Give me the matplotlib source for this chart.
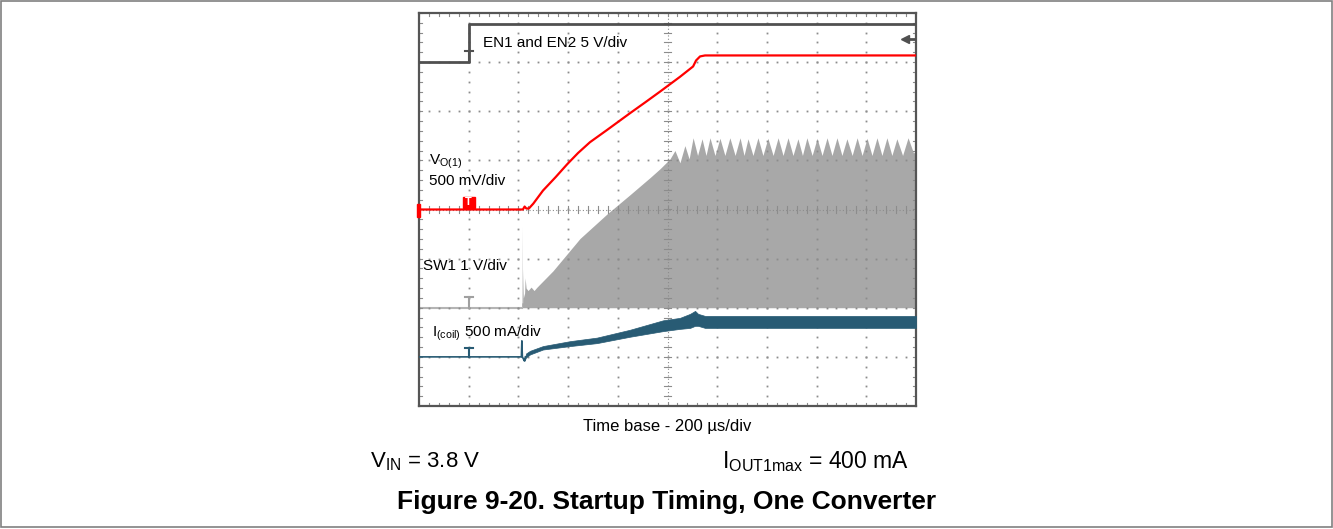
import numpy as np
import matplotlib
matplotlib.use("Agg")
import matplotlib.pyplot as plt
from matplotlib.patches import Rectangle

plt.rcParams['font.family'] = ['Liberation Sans', 'DejaVu Sans']
plt.rcParams['mathtext.fontset'] = 'custom'
plt.rcParams['mathtext.rm'] = 'Liberation Sans'
plt.rcParams['mathtext.it'] = 'Liberation Sans:italic'

#========== DATA ==========#

T_DIV = 200.0            # us per division

# EN1 / EN2 (5 V/div)
en_t = [0, 200, 200, 2000]
en_v = [0.0, 0.0, 3.85, 3.85]

# Vo(1) (500 mV/div)
vo_t = [0, 418, 425, 432, 442, 460, 499, 550, 596, 640, 688, 757, 849, 910, 970, 1050, 1103, 1115, 1131, 1151, 2000]
vo_v = [0.0, 0.0, 0.03, 0.01, 0.01, 0.06, 0.193, 0.33, 0.46, 0.575, 0.685, 0.81, 0.98, 1.09, 1.20, 1.35, 1.456, 1.517, 1.558, 1.568, 1.568]

# SW1 envelope (1 V/div)
sw_t = [0, 410, 413, 414, 415, 417, 418, 420, 425, 427, 431, 439, 451, 463, 475, 539, 648, 757, 849, 930, 970, 1010,
        1030, 1050, 1070, 1087, 1103, 1121, 1139, 1155, 1171, 1191, 1211, 1231, 1251, 1272, 1292, 1308, 1324, 1344,
        1364, 1384, 1404, 1425, 1445, 1465, 1485, 1505, 1525, 1543, 1561, 1582, 1602, 1622, 1642, 1662, 1682, 1702,
        1722, 1743, 1763, 1783, 1803, 1823, 1843, 1863, 1883, 1903, 1923, 1946, 1968, 1990, 2000]
sw_v = [0.0, 0.0, 0.0, 1.67, 0.10, 0.10, 0.79, 0.20, 0.30, 0.61, 0.40, 0.35, 0.42, 0.35, 0.42, 0.75, 1.41, 1.91, 2.30, 2.65, 2.83, 3.03,
        3.20, 2.95, 3.30, 3.03, 3.46, 3.10, 3.44, 3.10, 3.46, 3.10, 3.45, 3.10, 3.46, 3.10, 3.46, 3.10, 3.44, 3.10,
        3.46, 3.10, 3.45, 3.10, 3.46, 3.10, 3.46, 3.10, 3.44, 3.10, 3.46, 3.10, 3.45, 3.10, 3.46, 3.10, 3.46, 3.10,
        3.44, 3.10, 3.46, 3.10, 3.45, 3.10, 3.46, 3.10, 3.46, 3.10, 3.44, 3.10, 3.46, 3.15, 3.20]

# I(coil) (500 mA/div)
il_t = [0, 412, 414, 416, 420, 424, 428]
il_v = [0, 0, 163, 0, -20, -41, 0]
band_t = [424, 431, 447, 499, 608, 716, 849, 982, 1050, 1091, 1111, 1123, 1151, 2000]
band_hi = [-30, 35, 62, 110, 160, 196, 276, 372, 397, 438, 468, 438, 417, 417]
band_lo = [-41, -5, 25, 75, 110, 140, 205, 262, 285, 295, 316, 316, 295, 295]

# channel settings: (offset in div, units per div)
EN_CH = (3.0, 5.0)
VO_CH = (0.0, 0.5)
SW_CH = (-2.0, 1.0)
IL_CH = (-3.0, 500.0)

C_EN = '#505050'
C_VO = '#ff0000'
C_SW = '#a8a8a8'
C_IL = '#285b74'
C_GRID = '#8c8c8c'


def to_div(values, ch):
    return ch[0] + np.asarray(values, dtype=float) / ch[1]


def tdiv(t):
    return np.asarray(t, dtype=float) / T_DIV


def ground_marker(ax, x, y_ground, height, color):
    ax.plot([x - 0.08, x + 0.08], [y_ground + height, y_ground + height], color=color, lw=1.5, zorder=6)
    ax.plot([x, x], [y_ground, y_ground + height], color=color, lw=1.5, zorder=6)


#========== FIGURE ==========#

W, H = 1333, 529
fig = plt.figure(figsize=(W / 100, H / 100), dpi=100)
fig.patches.append(Rectangle((0.5 / W, 2.0 / H), 1 - 1.5 / W, 1 - 2.5 / H, transform=fig.transFigure,
                             fill=False, edgecolor='#808080', lw=1.2))

x0, x1, y0, y1 = 419, 916, 13, 406
ax = fig.add_axes([x0 / W, 1 - y1 / H, (x1 - x0) / W, (y1 - y0) / H])
ax.set_xlim(0, 10)
ax.set_ylim(-4, 4)
ax.set_xticks([])
ax.set_yticks([])
for sp in ax.spines.values():
    sp.set_color('#555555')
    sp.set_linewidth(1.6)

# graticule
fine = np.arange(0, 10.01, 0.2)
fine_y = np.arange(-4, 4.01, 0.2)
for gx in range(1, 10):
    if gx == 5:
        continue
    ax.plot(np.full_like(fine_y, gx), fine_y, ls='none', marker='s', ms=1.3, mew=0, color=C_GRID, zorder=2)
for gy in range(-3, 4):
    if gy == 0:
        continue
    ax.plot(fine, np.full_like(fine, gy), ls='none', marker='s', ms=1.3, mew=0, color=C_GRID, zorder=2)
ax.axvline(5, color=C_GRID, lw=0.8, ls=(0, (1, 2)), zorder=2)
ax.axhline(0, color=C_GRID, lw=0.8, ls=(0, (1, 2)), zorder=2)
for fx in fine:
    ax.plot([fx, fx], [-0.07, 0.07], color=C_GRID, lw=0.8, zorder=2)
    ax.plot([fx, fx], [-4, -3.93], color=C_GRID, lw=0.8, zorder=2)
    ax.plot([fx, fx], [4, 3.93], color=C_GRID, lw=0.8, zorder=2)
for fy in fine_y:
    ax.plot([4.93, 5.07], [fy, fy], color=C_GRID, lw=0.8, zorder=2)
    ax.plot([0, 0.07], [fy, fy], color=C_GRID, lw=0.8, zorder=2)
    ax.plot([9.93, 10], [fy, fy], color=C_GRID, lw=0.8, zorder=2)

# SW1
ax.fill_between(tdiv(sw_t), SW_CH[0], to_div(sw_v, SW_CH), color=C_SW, lw=0, zorder=1)
ax.plot(tdiv(sw_t[:3]), to_div(sw_v[:3], SW_CH), color='#b4b4b4', lw=1.5, zorder=1)

# I(coil)
ax.plot(tdiv(il_t), to_div(il_v, IL_CH), color=C_IL, lw=1.2, zorder=4)
ax.fill_between(tdiv(band_t), to_div(band_lo, IL_CH), to_div(band_hi, IL_CH), color=C_IL, lw=0.5, zorder=4)

# EN
ax.plot(tdiv(en_t), to_div(en_v, EN_CH), color=C_EN, lw=2.0, zorder=4)

# Vo
ax.plot(tdiv(vo_t), to_div(vo_v, VO_CH), color=C_VO, lw=1.6, zorder=5)

# markers
ground_marker(ax, 1.0, EN_CH[0], 0.22, C_EN)
ground_marker(ax, 1.0, SW_CH[0], 0.22, '#a0a0a0')
ground_marker(ax, 1.0, IL_CH[0], 0.18, C_IL)
ax.add_patch(Rectangle((0.89, 0.04), 0.23, 0.22, color=C_VO, zorder=6, clip_on=False))
ax.text(1.0, 0.15, 'T', color='white', fontsize=8, fontweight='bold', ha='center', va='center', zorder=7)
ax.add_patch(Rectangle((-0.05, -0.16), 0.08, 0.28, color=C_VO, zorder=6, clip_on=False))
ax.plot([9.78], [3.48], marker='<', ms=6, color=C_EN, zorder=6)
ax.plot([9.78, 10], [3.48, 3.48], color=C_EN, lw=2, zorder=6)

# channel labels
ax.text(1.29, 3.38, 'EN1 and EN2 5 V/div', fontsize=11, va='center', zorder=8)
ax.text(0.2, 0.98, r'V$_{\rm O(1)}$', fontsize=11, va='center', zorder=8)
ax.text(0.2, 0.57, '500 mV/div', fontsize=11, va='center', zorder=8)
ax.text(0.08, -1.14, 'SW1 1 V/div', fontsize=11, va='center', zorder=8)
ax.text(0.26, -2.52, r'I$_{\rm (coil)}$ 500 mA/div', fontsize=11, va='center', zorder=8)

# captions
fig.text(667 / W, 1 - 427 / H, 'Time base - 200 µs/div', fontsize=12, ha='center', va='center')
fig.text(370 / W, 1 - 462 / H, r'V$_{\rm IN}$ = 3.8 V', fontsize=16, ha='left', va='center')
fig.text(722 / W, 1 - 462 / H, r'I$_{\rm OUT1max}$ = 400 mA', fontsize=16.5, ha='left', va='center')
fig.text(667 / W, 1 - 502 / H, 'Figure 9-20. Startup Timing, One Converter', fontsize=19,
         fontweight='bold', ha='center', va='center')

fig.savefig('out.png', dpi=100)
